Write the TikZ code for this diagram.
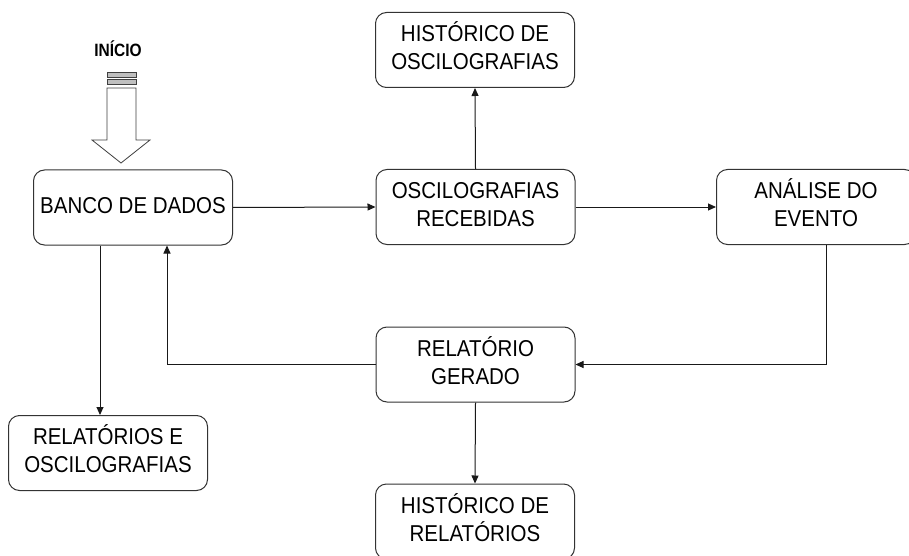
\documentclass[tikz,border=0pt]{standalone}
\usepackage{fontspec}
\setmainfont{Liberation Sans}
\usetikzlibrary{arrows.meta}
\newcommand\stxt[1]{\scalebox{1}[1.12]{\begin{tabular}{@{}c@{}}#1\end{tabular}}}
\tikzset{
  flowbox/.style={draw=black!80, line width=1pt, rounded corners=11pt,
    minimum width=199pt, minimum height=75pt, inner sep=0pt,
    font=\fontsize{20.5}{25}\selectfont, text=black},
  arr/.style={draw=black!90, line width=1pt, -{Triangle[length=8pt,width=7pt]}},
}
\begin{document}
\begin{tikzpicture}[x=1pt,y=-1pt]
\useasboundingbox (0,0) rectangle (909,556);
\clip (0,0) rectangle (909,556);
\fill[white] (0,0) rectangle (909,556);

\node[flowbox] (hosc)   at (475,50)    {\stxt{HISTÓRICO DE\\OSCILOGRAFIAS}};
\node[flowbox] (banco)  at (133,207.5) {\stxt{BANCO DE DADOS}};
\node[flowbox] (osc)    at (475.5,207) {\stxt{OSCILOGRAFIAS\\RECEBIDAS}};
\node[flowbox] (ana)    at (816,207)   {\stxt{ANÁLISE DO\\EVENTO}};
\node[flowbox] (rel)    at (475.5,364.5) {\stxt{RELATÓRIO\\GERADO}};
\node[flowbox] (relosc) at (108,453)   {\stxt{RELATÓRIOS E\\OSCILOGRAFIAS}};
\node[flowbox] (hrel)   at (475,521.5) {\stxt{HISTÓRICO DE\\RELATÓRIOS}};

\node[font=\fontsize{15.5}{18}\bfseries\selectfont, inner sep=0pt] (inicio) at (118,49) {\scalebox{1}[1.15]{INÍCIO}};

% hollow start arrow
\begin{scope}[draw=black!75, line width=0.8pt]
  \filldraw[fill=black!25] (107,72.5) rectangle (136,77);
  \filldraw[fill=black!25] (107,79.5) rectangle (136,84);
  \draw[fill=white] (107,88) -- (136,88) -- (136,140) -- (150,140) -- (121,163)
     -- (92,140) -- (107,140) -- cycle;
\end{scope}

\draw[arr] (banco.east) -- (osc.west);
\draw[arr] (osc.east) -- (ana.west);
\draw[arr] (osc.north) -- (hosc.south);
\draw[arr] ([xshift=10pt]ana.south) |- (rel.east);
\draw[arr] (rel.west) -| ([xshift=34pt]banco.south);
\draw[arr] ([xshift=-33pt]banco.south) -- ([xshift=-33pt]banco.south |- relosc.north);
\draw[arr] (rel.south) -- (hrel.north);
\end{tikzpicture}
\end{document}
